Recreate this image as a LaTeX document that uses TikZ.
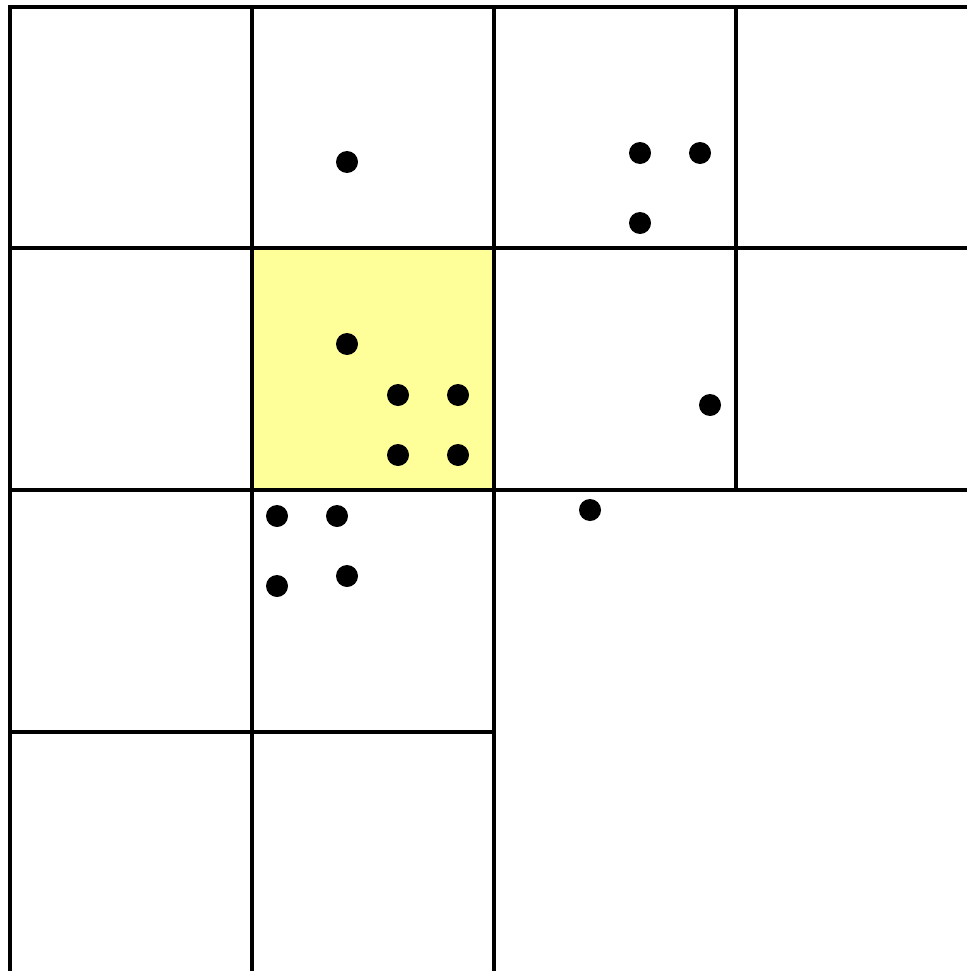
\documentclass[tikz,border=0pt]{standalone}
\begin{document}
\begin{tikzpicture}[x=1pt,y=-1pt,
  gridline/.style={line width=3.5pt,draw=black},
  dotmark/.style={fill=black},
  hilite/.style={fill={rgb,255:red,255;green,255;blue,153}}]
\useasboundingbox (0,0) rectangle (967,971);
\fill[hilite] (252,248) rectangle (494,490);
% horizontal lines
\draw[gridline] (8.25,7) -- (967,7);
\draw[gridline] (10,248) -- (967,248);
\draw[gridline] (10,490) -- (967,490);
\draw[gridline] (10,732) -- (494,732);
% vertical lines
\draw[gridline] (10,7) -- (10,971);
\draw[gridline] (252,7) -- (252,971);
\draw[gridline] (494,7) -- (494,971);
\draw[gridline] (736,7) -- (736,490);
% dots
\foreach \p in {(347,162),(640,153),(700,153),(640,223),(347,344),(398,395),(458,395),(398,455),(458,455),(710,405),(277,516),(337,516),(277,586),(347,576),(590,510)}
  \fill[dotmark] \p circle (11);
\end{tikzpicture}
\end{document}
